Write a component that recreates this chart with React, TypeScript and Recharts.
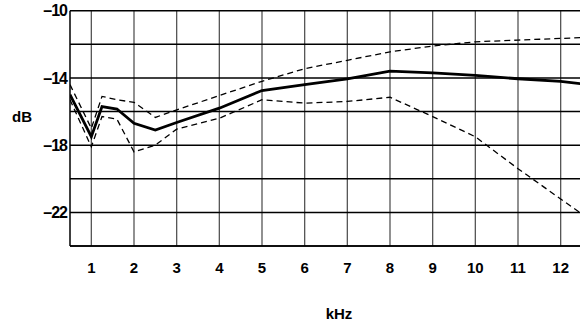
import React from "react";
import { LineChart, Line, XAxis, YAxis, ReferenceLine } from "recharts";

// frequency points (kHz) shared by all three curves
const khz = [0.5, 1, 1.25, 1.6, 2, 2.5, 3, 4, 5, 6, 7, 8, 9, 10, 11, 12, 12.5];
const mean = [-15.0, -17.5, -15.7, -15.85, -16.7, -17.1, -16.65, -15.8, -14.75, -14.4, -14.05, -13.6, -13.7, -13.85, -14.05, -14.2, -14.35];
const upper = [-14.4, -17.0, -15.1, -15.3, -15.45, -16.35, -15.9, -15.05, -14.2, -13.45, -12.95, -12.45, -12.1, -11.85, -11.75, -11.65, -11.6];
const lower = [-15.3, -18.1, -16.3, -16.45, -18.4, -18.0, -17.05, -16.4, -15.3, -15.5, -15.4, -15.15, -16.3, -17.5, -19.4, -21.2, -22.1];

const xTicks = [1, 2, 3, 4, 5, 6, 7, 8, 9, 10, 11, 12];
const yTicks = [-10, -14, -18, -22];
const dbGrid = [-10, -12, -14, -16, -18, -20, -22, -24];

const data = khz.map((k, i) => ({ khz: k, mean: mean[i], upper: upper[i], lower: lower[i] }));

const fontFamily = "'Liberation Sans', Arial, sans-serif";

const XTick = (props: any) => {
  const { x, y, payload } = props;
  return (
    <text x={x} y={y + 22} dy="0.35em" textAnchor="middle" fontFamily={fontFamily} fontWeight="bold" fontSize={15} fill="#000">
      {payload.value}
    </text>
  );
};

const YTick = (props: any) => {
  const { x, y, payload } = props;
  return (
    <text x={x - 3} y={y} dy="0.35em" textAnchor="end" fontFamily={fontFamily} fontWeight="bold" fontSize={16} fill="#000" letterSpacing={-1}>
      {"\u2013" + Math.abs(payload.value)}
    </text>
  );
};

export default function App() {
  return (
    <div style={{ position: "absolute", left: 0, top: 0, width: 580, height: 326, overflow: "hidden", background: "#fff" }}>
      <LineChart width={600} height={326} data={data} margin={{ top: 10.7, right: 18, left: 0, bottom: 0 }}>
        <XAxis
          dataKey="khz"
          type="number"
          domain={[0.5, 12.5]}
          ticks={xTicks}
          allowDataOverflow
          axisLine={{ stroke: "#000", strokeWidth: 1.5 }}
          tickLine={false}
          tickSize={0}
          tickMargin={0}
          height={80}
          tick={<XTick />}
          interval={0}
        />
        <YAxis
          type="number"
          domain={[-24, -10]}
          ticks={yTicks}
          allowDataOverflow
          axisLine={{ stroke: "#000", strokeWidth: 1.5 }}
          tickLine={false}
          tickSize={0}
          tickMargin={0}
          width={70}
          tick={<YTick />}
          interval={0}
        />
        {xTicks.map((k) => (
          <ReferenceLine key={"v" + k} x={k} stroke="#555" strokeWidth={1.3} />
        ))}
        {dbGrid.map((d) => (
          <ReferenceLine key={"h" + d} y={d} stroke="#000" strokeWidth={1.5} />
        ))}
        <Line dataKey="upper" type="linear" stroke="#000" strokeWidth={1.3} strokeDasharray="6 4" dot={false} isAnimationActive={false} />
        <Line dataKey="lower" type="linear" stroke="#000" strokeWidth={1.3} strokeDasharray="6 4" dot={false} isAnimationActive={false} />
        <Line dataKey="mean" type="linear" stroke="#000" strokeWidth={2.8} dot={false} isAnimationActive={false} />
      </LineChart>
      <div style={{ position: "absolute", left: 22, top: 116, transform: "translate(-50%, -50%)", fontFamily, fontWeight: "bold", fontSize: 15 }}>
        dB
      </div>
      <div style={{ position: "absolute", left: 339, top: 313, transform: "translate(-50%, -50%)", fontFamily, fontWeight: "bold", fontSize: 15 }}>
        kHz
      </div>
    </div>
  );
}
